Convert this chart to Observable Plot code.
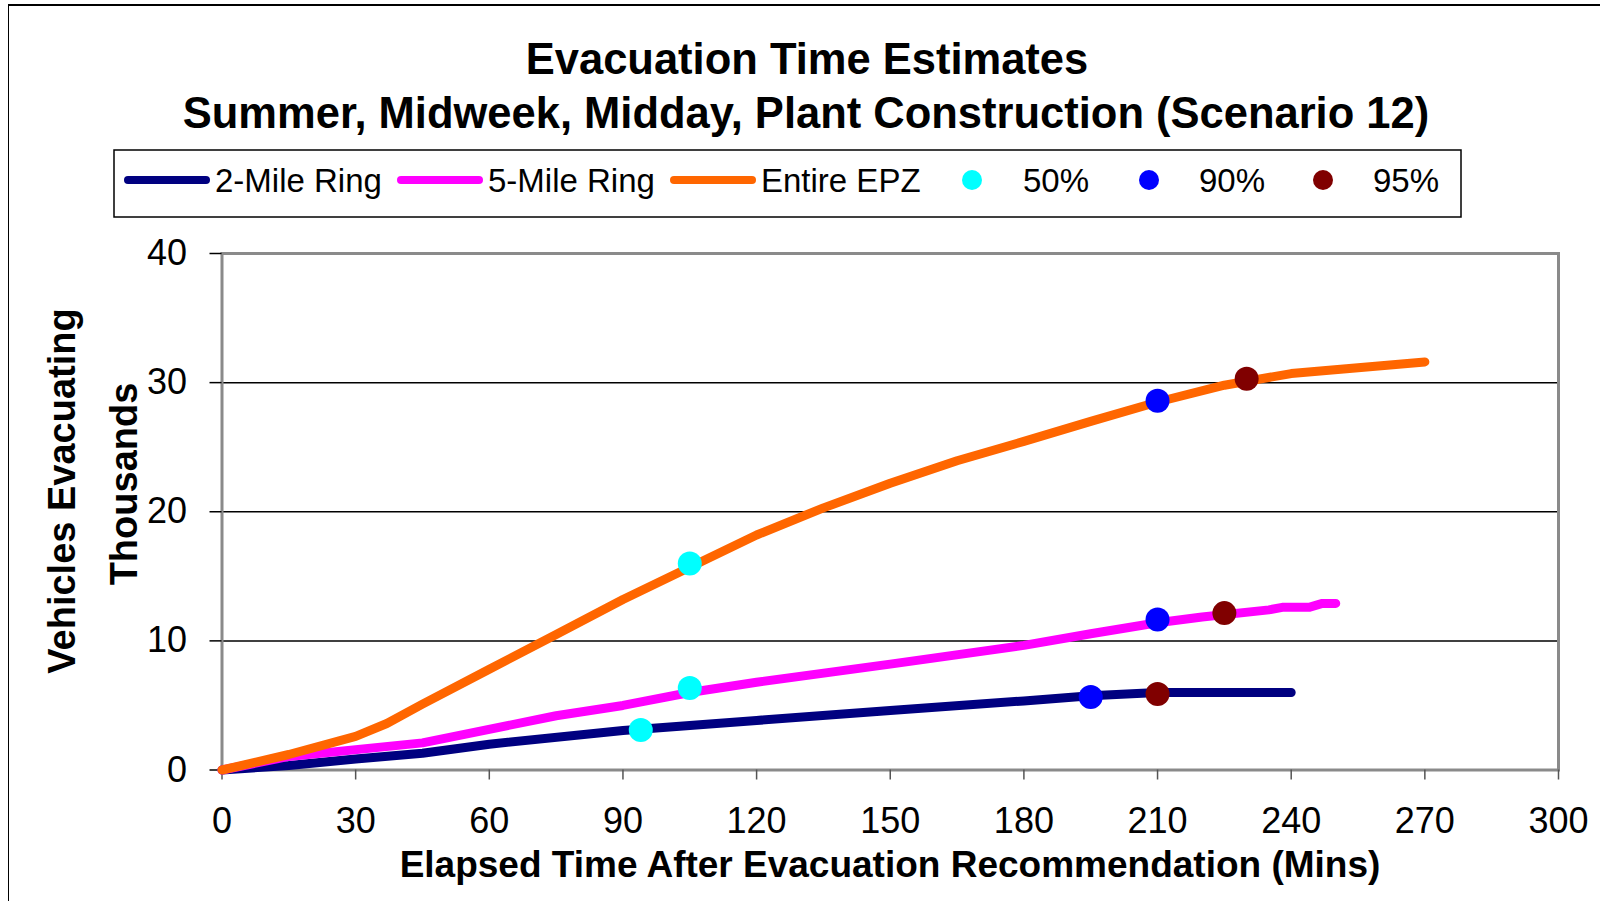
<!DOCTYPE html>
<html>
<head>
<meta charset="utf-8">
<script src="https://cdn.jsdelivr.net/npm/d3@7"></script>
<script src="https://cdn.jsdelivr.net/npm/@observablehq/plot@0.6"></script>
<style>
  html, body { margin: 0; padding: 0; background: #fff; }
  #page { position: relative; width: 1600px; height: 901px; overflow: hidden;
          font-family: "Liberation Sans", Arial, sans-serif; }
  #outline { position: absolute; left: 8px; top: 4px; width: 1700px; height: 1000px;
             border-left: 1.5px solid #000; border-top: 2px solid #000; box-sizing: border-box; }
  #chart, #overlay { position: absolute; left: 0; top: 0; }
</style>
</head>
<body>
<div id="page">
  <div id="outline"></div>
  <div id="chart"></div>
  <svg id="overlay" width="1600" height="901"></svg>
</div>
<script>
// Cumulative vehicles evacuating (thousands) versus elapsed minutes
const twoMileTime     = [0, 15, 30, 45, 60, 90, 120, 150, 180, 195, 210, 240];
const twoMileVehicles = [0, 0.35, 0.85, 1.3, 2.0, 3.06, 3.84, 4.6, 5.35, 5.75, 6.0, 6.0];

const fiveMileTime     = [0, 15, 45, 75, 90, 105, 120, 150, 180, 195, 210, 220, 235, 238, 244, 247, 250];
const fiveMileVehicles = [0, 1.05, 2.1, 4.2, 5.0, 6.0, 6.8, 8.2, 9.65, 10.55, 11.4, 11.85, 12.4, 12.6, 12.6, 12.9, 12.9];

const epzTime     = [0, 15, 30, 37, 45, 60, 75, 90, 105, 120, 135, 150, 165, 180, 195, 210, 225, 240, 270];
const epzVehicles = [0, 1.2, 2.6, 3.6, 5.1, 7.8, 10.5, 13.2, 15.7, 18.2, 20.3, 22.2, 23.95, 25.45, 27.0, 28.5, 29.8, 30.7, 31.6];

// Times at which 50%, 90% and 95% of each area has evacuated
const pctLabels = ["50%", "90%", "95%"];
const twoMilePctTime      = [94, 195, 210];
const twoMilePctVehicles  = [3.1, 5.65, 5.88];
const fiveMilePctTime     = [105, 210, 225];
const fiveMilePctVehicles = [6.35, 11.65, 12.15];
const epzPctTime          = [105, 210, 230];
const epzPctVehicles      = [16.0, 28.6, 30.3];

const seriesNames = ["2-Mile Ring", "5-Mile Ring", "Entire EPZ"];
const seriesColors = ["#000080", "#FF00FF", "#FF6600"];
const pctColors = ["#00FFFF", "#0000FF", "#800000"];

const xTicks = [0, 30, 60, 90, 120, 150, 180, 210, 240, 270, 300];
const yTicks = [0, 10, 20, 30, 40];

const toRows = (ts, vs) => ts.map((t, i) => ({t, v: vs[i]}));
const lines = [
  toRows(twoMileTime, twoMileVehicles),
  toRows(fiveMileTime, fiveMileVehicles),
  toRows(epzTime, epzVehicles)
];
const pctRows = (ts, vs) => ts.map((t, i) => ({t, v: vs[i], level: pctLabels[i]}));
const markers = [
  ...pctRows(twoMilePctTime, twoMilePctVehicles),
  ...pctRows(fiveMilePctTime, fiveMilePctVehicles),
  ...pctRows(epzPctTime, epzPctVehicles)
];

const font = "'Liberation Sans', Arial, sans-serif";

const chart = Plot.plot({
  width: 1600,
  height: 901,
  marginLeft: 221.5,
  marginRight: 42,
  marginTop: 253,
  marginBottom: 131.5,
  style: {fontFamily: font, fontSize: "36px", color: "#000", background: "transparent", overflow: "visible"},
  x: {domain: [0, 300]},
  y: {domain: [0, 40]},
  color: {domain: pctLabels, range: pctColors},
  marks: [
    Plot.gridY([10, 20, 30], {stroke: "#000", strokeOpacity: 1, strokeWidth: 1.5}),
    Plot.frame({stroke: "#8a8a8a", strokeWidth: 3}),
    Plot.axisY({ticks: yTicks, tickSize: 12, tickPadding: 23, label: null,
                stroke: "#000", strokeWidth: 1.5, fill: "#000", fontSize: 36}),
    Plot.axisX({ticks: xTicks, tickSize: 10, tickPadding: 27, label: null,
                stroke: "#555", strokeWidth: 1.5, fill: "#000", fontSize: 36}),
    ...lines.map((rows, i) => Plot.line(rows, {
      x: "t", y: "v", stroke: seriesColors[i], strokeWidth: 9,
      strokeLinecap: "round", strokeLinejoin: "round"
    })),
    Plot.dot(markers, {x: "t", y: "v", fill: "level", r: 12, stroke: "none"})
  ]
});
document.getElementById("chart").appendChild(chart);

// Titles, axis titles and legend
const svg = d3.select("#overlay").style("font-family", font);

svg.append("text").attr("x", 807).attr("y", 73.5).attr("text-anchor", "middle")
  .attr("font-size", 43.5).attr("font-weight", "bold").text("Evacuation Time Estimates");
svg.append("text").attr("x", 806).attr("y", 127.5).attr("text-anchor", "middle")
  .attr("font-size", 43.5).attr("font-weight", "bold")
  .text("Summer, Midweek, Midday, Plant Construction (Scenario 12)");

svg.append("text").attr("transform", "translate(75,491) rotate(-90)").attr("text-anchor", "middle")
  .attr("font-size", 38).attr("font-weight", "bold").text("Vehicles Evacuating");
svg.append("text").attr("transform", "translate(137,484) rotate(-90)").attr("text-anchor", "middle")
  .attr("font-size", 38).attr("font-weight", "bold").text("Thousands");

svg.append("text").attr("x", 890).attr("y", 877).attr("text-anchor", "middle")
  .attr("font-size", 37).attr("font-weight", "bold")
  .text("Elapsed Time After Evacuation Recommendation (Mins)");

const legend = svg.append("g");
legend.append("rect").attr("x", 114).attr("y", 150).attr("width", 1347).attr("height", 67)
  .attr("fill", "#fff").attr("stroke", "#000").attr("stroke-width", 1.5);
const ly = 180;
const lineItems = [[128, 215], [401, 488], [674, 761]];
lineItems.forEach(([x0, tx], i) => {
  legend.append("line").attr("x1", x0).attr("x2", x0 + 78).attr("y1", ly).attr("y2", ly)
    .attr("stroke", seriesColors[i]).attr("stroke-width", 8).attr("stroke-linecap", "round");
  legend.append("text").attr("x", tx).attr("y", ly + 12).attr("font-size", 33).text(seriesNames[i]);
});
const dotItems = [[972, 1023], [1149, 1199], [1323, 1373]];
dotItems.forEach(([cx, tx], i) => {
  legend.append("circle").attr("cx", cx).attr("cy", ly).attr("r", 10).attr("fill", pctColors[i]);
  legend.append("text").attr("x", tx).attr("y", ly + 12).attr("font-size", 33).text(pctLabels[i]);
});
</script>
</body>
</html>
